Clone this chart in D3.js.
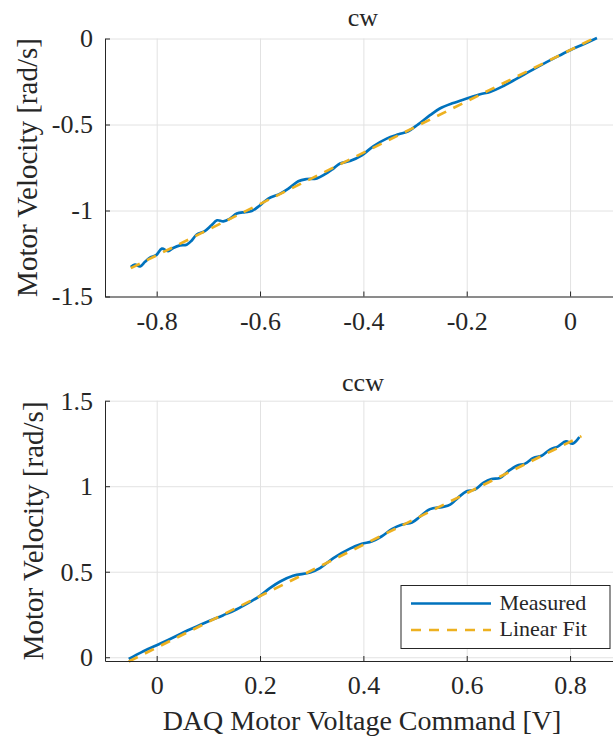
<!DOCTYPE html>
<html>
<head>
<meta charset="utf-8">
<script src="https://cdn.jsdelivr.net/npm/d3@7"></script>
<style>
body { margin: 0; background: #fff; }
text { font-family: "Liberation Serif", serif; fill: #262626; }
</style>
</head>
<body>
<script>
// Measured data, cw direction
var cwVoltage = [-0.850,-0.842,-0.832,-0.823,-0.813,-0.801,-0.790,-0.778,-0.768,-0.755,-0.742,-0.732,-0.723,-0.707,-0.694,-0.683,-0.671,-0.658,-0.645,-0.629,-0.616,-0.600,-0.584,-0.561,-0.545,-0.526,-0.510,-0.490,-0.474,-0.458,-0.445,-0.426,-0.403,-0.381,-0.355,-0.332,-0.313,-0.294,-0.271,-0.252,-0.226,-0.200,-0.174,-0.155,-0.129,-0.103,-0.065,-0.026,0.000,0.026,0.052];
var cwVelocity = [-1.329,-1.315,-1.325,-1.300,-1.274,-1.260,-1.222,-1.236,-1.218,-1.203,-1.199,-1.174,-1.141,-1.120,-1.086,-1.057,-1.063,-1.047,-1.018,-1.009,-1.003,-0.970,-0.931,-0.902,-0.873,-0.830,-0.817,-0.813,-0.789,-0.756,-0.727,-0.712,-0.679,-0.627,-0.582,-0.557,-0.539,-0.499,-0.446,-0.407,-0.375,-0.349,-0.324,-0.311,-0.276,-0.233,-0.169,-0.107,-0.068,-0.033,0.003];
var cwFitVoltage = [-0.850, 0.052];
var cwFitVelocity = [-1.335, 0.010];

// Measured data, ccw direction
var ccwVoltage = [-0.054,-0.029,0.000,0.032,0.064,0.097,0.129,0.155,0.181,0.200,0.219,0.239,0.264,0.297,0.316,0.342,0.374,0.397,0.416,0.435,0.455,0.474,0.494,0.510,0.529,0.552,0.568,0.584,0.600,0.616,0.632,0.648,0.664,0.680,0.697,0.713,0.729,0.745,0.761,0.777,0.792,0.805,0.818];
var ccwVelocity = [-0.010,0.030,0.070,0.115,0.162,0.206,0.246,0.281,0.324,0.359,0.404,0.443,0.476,0.495,0.521,0.580,0.635,0.663,0.677,0.706,0.749,0.775,0.788,0.823,0.866,0.878,0.892,0.935,0.970,0.980,1.019,1.042,1.048,1.087,1.120,1.132,1.165,1.178,1.214,1.233,1.262,1.249,1.288];
var ccwFitVoltage = [-0.054, 0.822];
var ccwFitVelocity = [-0.025, 1.293];

// Ticks
var cwXTicks = [-0.8, -0.6, -0.4, -0.2, 0];
var cwYTicks = [-1.5, -1, -0.5, 0];
var ccwXTicks = [0, 0.2, 0.4, 0.6, 0.8];
var ccwYTicks = [0, 0.5, 1, 1.5];
var legendLabels = ["Measured", "Linear Fit"];

var blue = "#0072BD", yellow = "#EDB120", axisColor = "#262626", gridColor = "#e2e2e2";
var serif = "'Liberation Serif', serif";
var left = 105, right = 614;

var svg = d3.select("body").append("svg")
    .attr("width", 613)
    .attr("height", 740);

function zip(xs, ys) {
    return xs.map(function(x, i) { return [x, ys[i]]; });
}
function fmt(d) { return String(+d.toFixed(2)); }

function drawPanel(p) {
    var x = d3.scaleLinear().domain(p.xDomain).range([left, right]);
    var y = d3.scaleLinear().domain(p.yDomain).range([p.bottom, p.top]);
    var g = svg.append("g");

    // grid
    g.append("g")
        .attr("transform", "translate(0," + p.bottom + ")")
        .call(d3.axisBottom(x).tickValues(p.xTicks).tickSize(-(p.bottom - p.top)).tickFormat(""))
        .call(function(s) { s.select(".domain").remove(); s.selectAll("line").attr("stroke", gridColor); });
    g.append("g")
        .attr("transform", "translate(" + left + ",0)")
        .call(d3.axisLeft(y).tickValues(p.yTicks).tickSize(-(right - left)).tickFormat(""))
        .call(function(s) { s.select(".domain").remove(); s.selectAll("line").attr("stroke", gridColor); });

    var line = d3.line()
        .x(function(d) { return x(d[0]); })
        .y(function(d) { return y(d[1]); });

    g.append("path")
        .datum(zip(p.vx, p.vy))
        .attr("fill", "none")
        .attr("stroke", blue)
        .attr("stroke-width", 2.7)
        .attr("stroke-linejoin", "round")
        .attr("d", line.curve(d3.curveCatmullRom.alpha(0.5)));

    g.append("path")
        .datum(zip(p.fx, p.fy))
        .attr("fill", "none")
        .attr("stroke", yellow)
        .attr("stroke-width", 2.7)
        .attr("stroke-dasharray", "10,8")
        .attr("d", line.curve(d3.curveLinear));

    // axes
    var xAxis = g.append("g")
        .attr("transform", "translate(0," + p.bottom + ")")
        .call(d3.axisBottom(x).tickValues(p.xTicks).tickSizeInner(-5).tickSizeOuter(0)
            .tickPadding(15).tickFormat(fmt));
    var yAxis = g.append("g")
        .attr("transform", "translate(" + left + ",0)")
        .call(d3.axisLeft(y).tickValues(p.yTicks).tickSizeInner(-5).tickSizeOuter(0)
            .tickPadding(12).tickFormat(fmt));
    [xAxis, yAxis].forEach(function(a) {
        a.attr("font-family", serif).attr("font-size", 26);
        a.selectAll("path, line").attr("stroke", axisColor);
        a.selectAll("text").attr("fill", axisColor);
    });

    // title
    g.append("text")
        .attr("x", 363).attr("y", p.titleY)
        .attr("text-anchor", "middle")
        .attr("font-size", 26)
        .text(p.title);

    // y label
    g.append("text")
        .attr("transform", "translate(" + p.yLabelX + "," + (p.top + p.bottom) / 2 + ") rotate(-90)")
        .attr("text-anchor", "middle")
        .attr("font-size", 29)
        .text("Motor Velocity [rad/s]");
}

drawPanel({
    title: "cw", titleY: 26, top: 38.5, bottom: 296.5, yLabelX: 37,
    xDomain: [-0.9, 0.085], yDomain: [-1.5, 0],
    xTicks: cwXTicks, yTicks: cwYTicks,
    vx: cwVoltage, vy: cwVelocity, fx: cwFitVoltage, fy: cwFitVelocity
});

drawPanel({
    title: "ccw", titleY: 391, top: 400.7, bottom: 661, yLabelX: 43,
    xDomain: [-0.1, 0.885], yDomain: [-0.022, 1.5],
    xTicks: ccwXTicks, yTicks: ccwYTicks,
    vx: ccwVoltage, vy: ccwVelocity, fx: ccwFitVoltage, fy: ccwFitVelocity
});

// x label
svg.append("text")
    .attr("x", 362).attr("y", 730)
    .attr("text-anchor", "middle")
    .attr("font-size", 28)
    .text("DAQ Motor Voltage Command [V]");

// Legend
var legend = svg.append("g").attr("transform", "translate(401,585.5)");
legend.append("rect")
    .attr("width", 209).attr("height", 63)
    .attr("fill", "#fff").attr("stroke", axisColor).attr("stroke-width", 1);
legendLabels.forEach(function(lbl, i) {
    var ly = 18 + i * 26.5;
    legend.append("line")
        .attr("x1", 10).attr("x2", 90).attr("y1", ly).attr("y2", ly)
        .attr("stroke", i === 0 ? blue : yellow)
        .attr("stroke-width", 2.7)
        .attr("stroke-dasharray", i === 0 ? null : "10,8");
    legend.append("text")
        .attr("x", 98.5).attr("y", ly + 6)
        .attr("font-size", 22)
        .text(lbl);
});
</script>
</body>
</html>
